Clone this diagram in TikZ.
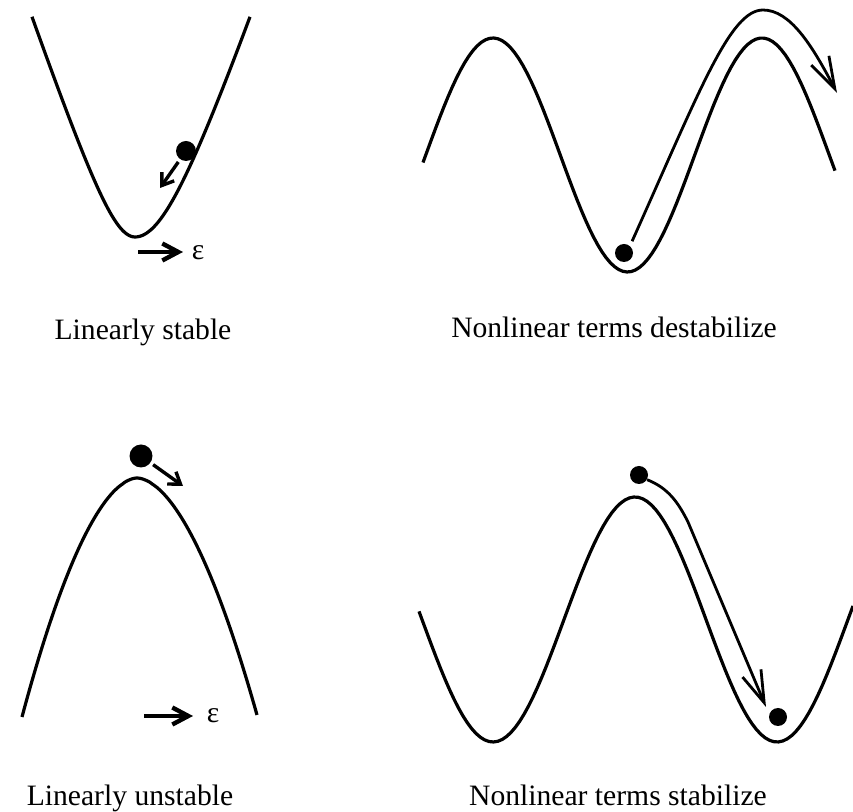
\documentclass[tikz,border=0pt]{standalone}
\usepackage{fontspec}
\setmainfont{Liberation Serif}
\usepackage{tikz}
\usetikzlibrary{arrows.meta}

\begin{document}
\begin{tikzpicture}[
    x=0.5pt, y=-0.5pt,
    font=\fontsize{14.8}{18}\selectfont,
    crv/.style={line width=1.6pt},
    ball/.style={circle, fill, inner sep=0pt, minimum size=#1},
    push/.style={line width=1.7pt, -{Straight Barb[length=5.5pt,width=7.5pt]}, shorten <=1.5pt},
    trk/.style={line width=1.4pt, -{Straight Barb[length=16pt,width=10pt]}},
    epsarr/.style={line width=2.2pt, -{Straight Barb[length=8pt,width=8.5pt]}},
    lbl/.style={anchor=base}
  ]
  \useasboundingbox (0,0) rectangle (853,812);

  % linearly stable: well
  \draw[crv] plot[domain=103:0, samples=50] ({135-\x},{237-2.93*(sqrt(\x*\x+1089)-33)})
    -- plot[domain=0:115, samples=50] ({135+\x},{237-2.92*(sqrt(\x*\x+2500)-50)});
  \node[ball=10pt] (b1) at (186,151) {};
  \coordinate (p1) at (160,188);
  \draw[push] (b1) -- (p1);
  \coordinate (e1a) at (138,252);
  \coordinate (e1b) at (183,252);
  \draw[epsarr] (e1a) -- (e1b);
  \node[inner sep=1pt] (eps1) at (198,253) {ε};

  % nonlinear terms destabilize (period 269 px)
  \draw[crv] plot[domain=423:835, samples=100] (\x,{155-117*cos(1.33829*(\x-493))});
  \node[ball=9pt] (b2) at (624,253) {};
  \coordinate (t2) at (837,93);
  \draw[trk, shorten <=2.5pt] (b2.50) .. controls (700,90) and (730,10) .. (763,10)
    .. controls (790,10) and (812,45) .. (t2);

  % linearly unstable: hill
  \draw[crv] plot[domain=115:0.5, samples=50] ({137-\x},{478+239*pow(\x/115,1.8)})
    -- plot[domain=0.5:120, samples=50] ({137+\x},{478+237*pow(\x/120,1.8)});
  \node[ball=11.5pt] (b3) at (141,456) {};
  \coordinate (p3) at (183,486);
  \draw[push] (b3) -- (p3);
  \coordinate (e3a) at (144,716);
  \coordinate (e3b) at (193,716);
  \draw[epsarr] (e3a) -- (e3b);
  \node[inner sep=1pt] (eps3) at (213,716) {ε};

  % nonlinear terms stabilize (period 284 px)
  \draw[crv] plot[domain=419:853, samples=100] (\x,{619.5+122.5*cos(1.26761*(\x-493))});
  \node[ball=9pt] (b4) at (639,475) {};
  \node[ball=9pt] (b5) at (778,717) {};
  \coordinate (t4) at (766,707);
  \draw[trk] (b4.-30) .. controls (668,488) and (678,502) .. (688,522) -- (t4);

  % captions
  \node[lbl] (l1) at (143,340) {Linearly stable};
  \node[lbl] (l2) at (614,338) {Nonlinear terms destabilize};
  \node[lbl] (l3) at (130,806) {Linearly unstable};
  \node[lbl] (l4) at (618,806) {Nonlinear terms stabilize};
\end{tikzpicture}
\end{document}
